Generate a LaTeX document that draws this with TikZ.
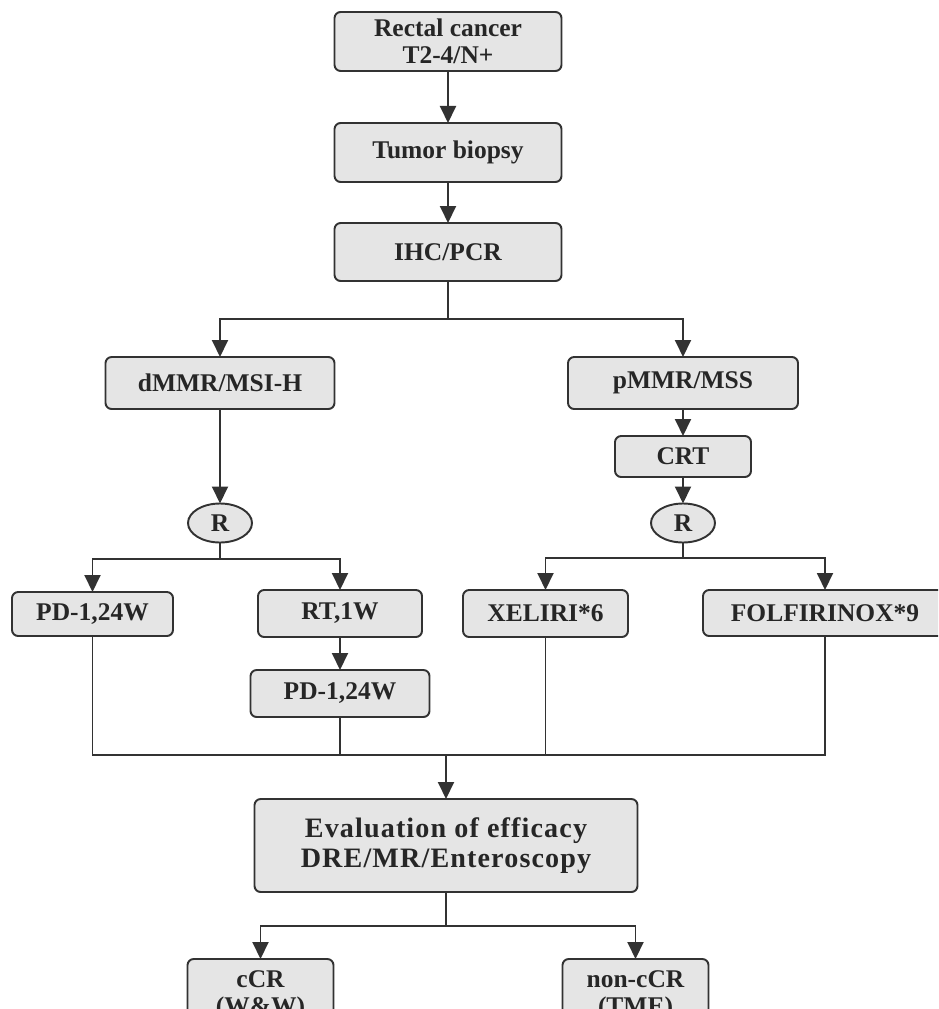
\documentclass[tikz,border=0pt]{standalone}
\usepackage{fontspec}
\setmainfont{Liberation Serif}
\usetikzlibrary{arrows.meta, positioning, shapes.geometric, calc}
\definecolor{flowgray}{RGB}{50,50,50}
\definecolor{boxfill}{RGB}{229,229,229}
\definecolor{txtgray}{RGB}{38,38,38}

\begin{document}
\begin{tikzpicture}[
  every node/.style={font=\fontsize{14.5}{15.4}\selectfont\bfseries,text=txtgray},
  fbox/.style={draw=flowgray,rounded corners=3.5pt,line width=1.1pt,
    fill=boxfill,align=center,inner sep=0pt,outer sep=0pt},
  topbox/.style={fbox,minimum width=4.54cm,minimum height=1.18cm},
  armbox/.style={fbox,minimum height=0.94cm},
  rnode/.style={ellipse,draw=flowgray,fill=boxfill,line width=1.1pt,
    minimum width=1.28cm,minimum height=0.78cm,inner sep=0pt,outer sep=0pt},
  evbox/.style={fbox,minimum width=7.66cm,minimum height=1.86cm,
    font=\fontsize{16}{17}\selectfont\bfseries\addfontfeature{LetterSpace=4}},
  outbox/.style={fbox,minimum width=2.92cm,minimum height=1.44cm},
  arr/.style={-{Triangle[length=0.34cm,width=0.32cm]},line width=1.1pt,flowgray},
  ln/.style={line width=1.1pt,flowgray}
]
\path[use as bounding box,clip] (0,0) rectangle (18.76,-20.18);

\node[topbox] (rc) at (8.96,-0.83) {Rectal cancer\\T2-4/N+};
\node[topbox, below=1.04cm of rc]  (tb)  {Tumor biopsy};
\node[topbox, below=0.82cm of tb, minimum height=1.16cm] (ihc) {IHC/PCR};

\node[fbox, below=1.52cm of ihc, xshift=-4.56cm,
  minimum width=4.58cm, minimum height=1.04cm] (dmmr) {dMMR/MSI-H};
\node[fbox, below=1.52cm of ihc, xshift=4.70cm,
  minimum width=4.60cm, minimum height=1.04cm] (pmmr) {pMMR/MSS};
\node[fbox, below=0.54cm of pmmr,
  minimum width=2.72cm, minimum height=0.82cm] (crt) {CRT};

\node[rnode, below=1.89cm of dmmr] (rl) {R};
\node[rnode, below=0.53cm of crt]  (rr) {R};

\node[armbox, below=0.99cm of rl, xshift=-2.55cm,
  minimum width=3.22cm, minimum height=0.88cm] (pda) {PD-1,24W};
\node[armbox, below=0.95cm of rl, xshift=2.40cm,
  minimum width=3.28cm] (rt) {RT,1W};
\node[armbox, below=0.66cm of rt, minimum width=3.58cm] (pdb) {PD-1,24W};
\node[armbox, below=0.95cm of rr, xshift=-2.75cm,
  minimum width=3.30cm] (xel) {XELIRI*6};
\node[armbox, below=0.95cm of rr, xshift=2.84cm,
  minimum width=4.88cm, minimum height=0.92cm] (fol) {FOLFIRINOX*9};

\node[evbox, below=1.64cm of pdb, xshift=2.12cm] (eval)
  {Evaluation of efficacy\\DRE/MR/Enteroscopy};
\node[outbox, below=1.34cm of eval, xshift=-3.71cm] (ccr) {cCR\\(W\&W)};
\node[outbox, below=1.34cm of eval, xshift=3.79cm]  (nccr) {non-cCR\\(TME)};

% main chain
\draw[arr] (rc) -- (tb);
\draw[arr] (tb) -- (ihc);

% IHC -> two groups
\draw[arr] (ihc.south) -- ++(0,-0.76) -| (dmmr.north);
\draw[arr] (ihc.south) -- ++(0,-0.76) -| (pmmr.north);

% dMMR arm
\draw[arr] (dmmr) -- (rl);
\draw[arr] (rl.south) -- ++(0,-0.33) -| (pda.north);
\draw[arr] (rl.south) -- ++(0,-0.33) -| (rt.north);
\draw[arr] (rt) -- (pdb);

% pMMR arm
\draw[arr] (pmmr) -- (crt);
\draw[arr] (crt) -- (rr);
\draw[arr] (rr.south) -- ++(0,-0.31) -| (xel.north);
\draw[arr] (rr.south) -- ++(0,-0.31) -| (fol.north);

% merge into evaluation
\coordinate (mrg) at ($(eval.north)+(0,0.88)$);
\draw[ln] (pda.south) |- (mrg) -| (fol.south);
\draw[ln] (pdb.south) -- (pdb.south |- mrg);
\draw[ln] (xel.south) -- (xel.south |- mrg);
\draw[arr] (mrg) -- (eval.north);

% outcome
\draw[arr] (eval.south) -- ++(0,-0.68) -| (ccr.north);
\draw[arr] (eval.south) -- ++(0,-0.68) -| (nccr.north);

\end{tikzpicture}
\end{document}
